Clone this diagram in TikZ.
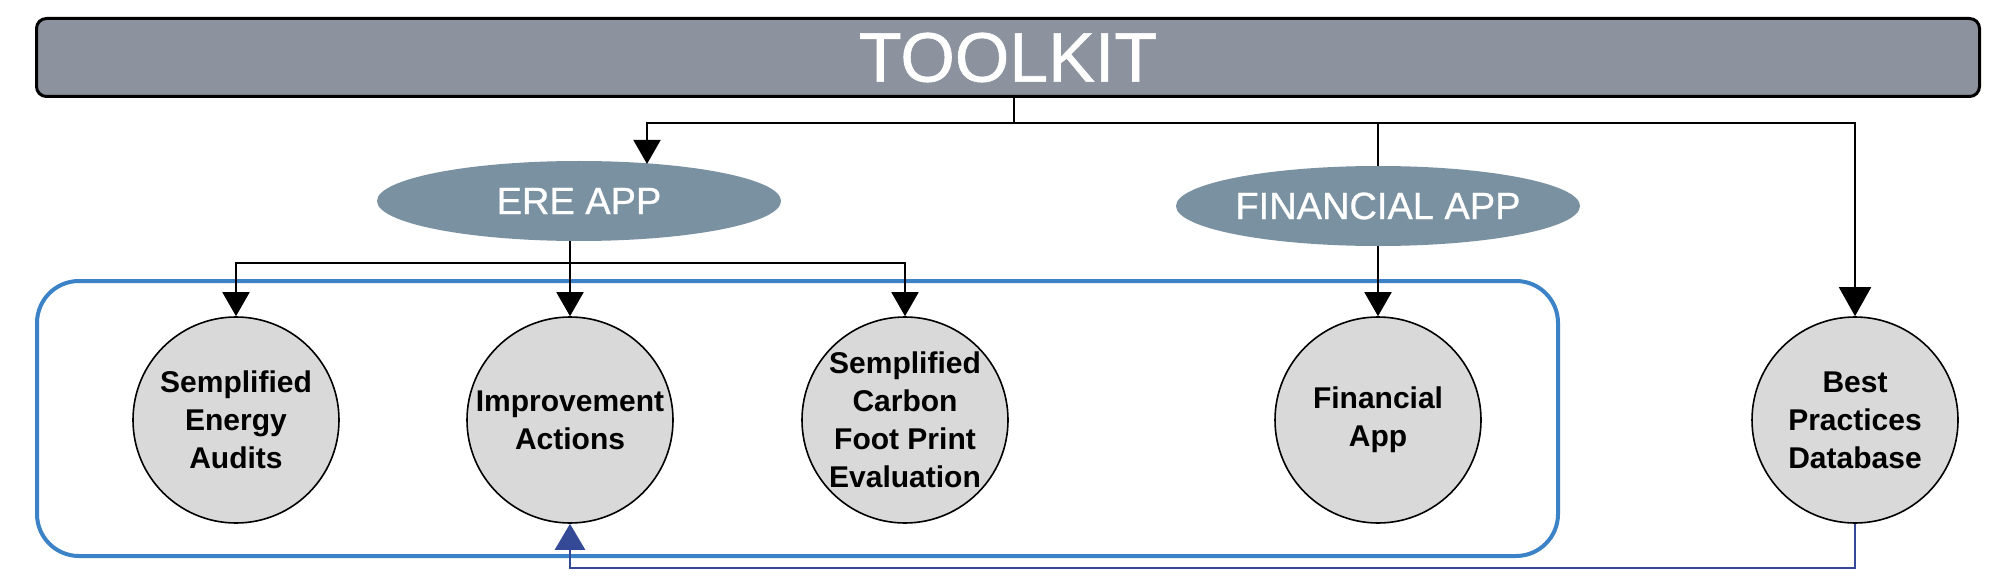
\documentclass[tikz,border=0pt]{standalone}
\usepackage{fontspec}
\setmainfont{Liberation Sans}
\newfontfamily\headfont[FakeBold=0.8]{Liberation Sans}
\usetikzlibrary{arrows.meta,shapes.geometric}

\definecolor{barGray}{RGB}{140,146,158}
\definecolor{appBlue}{RGB}{122,145,161}
\definecolor{toolGray}{RGB}{217,217,217}
\definecolor{frameBlue}{RGB}{59,131,198}
\definecolor{backBlue}{RGB}{52,74,151}

\begin{document}
\begin{tikzpicture}[x=1pt,y=-1pt,
		toolbar/.style={draw=black,line width=3pt,fill=barGray,rounded corners=10pt,
			minimum width=1943pt,minimum height=78pt,inner sep=0pt,text=white,
			font=\headfont\fontsize{70}{72}\selectfont},
		appnode/.style={ellipse,fill=appBlue,minimum width=404pt,minimum height=80pt,
			inner sep=0pt,text=white,font=\headfont\fontsize{38}{40}\selectfont},
		toolnode/.style={circle,draw=black,line width=1.6pt,fill=toolGray,minimum size=206pt,
			inner sep=0pt,align=center,font=\bfseries\fontsize{30}{38}\selectfont},
		wire/.style={line width=1.8pt},
		arrowdown/.style={-{Triangle[length=24pt,width=27pt]}},
		bigdown/.style={-{Triangle[length=29pt,width=32pt]}},
		backline/.style={draw=backBlue,line width=2.5pt,-{Triangle[length=26pt,width=30pt]}}]
		% 外枠
		\useasboundingbox (0,0) rectangle (2009,577);
		% 青い枠
		\draw[frameBlue,line width=4pt,rounded corners=42pt] (37,281) rectangle (1558,556);
		% ノードの配置
		\node[toolbar] (toolkit) at (1008,57.5) {TOOLKIT};
		\node[appnode] (ereApp) at (579,201) {ERE APP};
		\node[appnode] (finApp) at (1378,206) {FINANCIAL APP};
		\node[toolnode] (audit) at (236,420) {Semplified\\Energy\\Audits};
		\node[toolnode] (improve) at (570,420) {Improvement\\Actions};
		\node[toolnode] (carbon) at (905,420) {Semplified\\Carbon\\Foot Print\\Evaluation};
		\node[toolnode] (finTool) at (1378,420) {Financial\\App};
		\node[toolnode] (best) at (1855,420) {Best\\Practices\\Database};
		% 分岐点
		\coordinate (topSplit) at (1014,123);
		\coordinate (ereIn) at (647,164);
		\coordinate (ereSplit) at (570,263);
		\coordinate (backLow) at (0,568);
		% 線の描画
		\draw[wire] (toolkit.south -| topSplit)--(topSplit);
		\draw[wire,arrowdown] (topSplit)-|(ereIn);
		\draw[wire,bigdown] (topSplit)-|(best.north);
		\draw[wire] (finApp.north |- topSplit)--(finApp.north);
		\draw[wire,arrowdown] (finApp.south)--(finTool.north);
		\draw[wire] (ereApp.south -| ereSplit)--(ereSplit);
		\draw[wire,arrowdown] (ereSplit)--(improve.north);
		\draw[wire,arrowdown] (ereSplit)-|(audit.north);
		\draw[wire,arrowdown] (ereSplit)-|(carbon.north);
		% 戻りの線
		\draw[backline] (best.south)--(best.south |- backLow)-|(improve.south);
	\end{tikzpicture}
\end{document}
